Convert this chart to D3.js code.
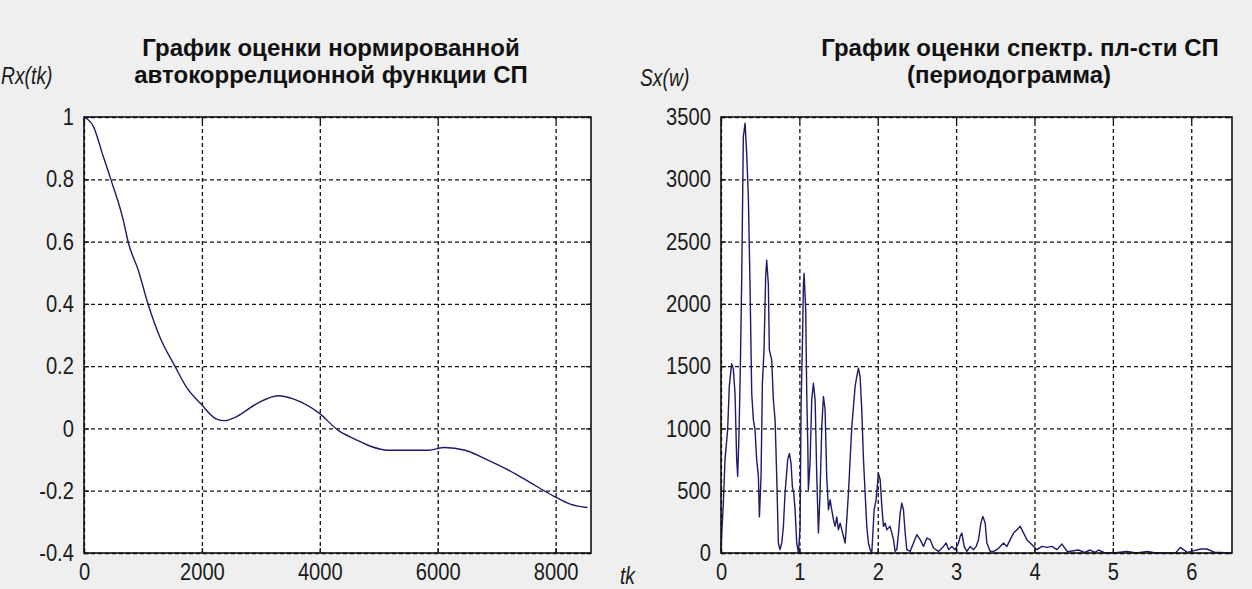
<!DOCTYPE html>
<html>
<head>
<meta charset="utf-8">
<script src="https://cdn.jsdelivr.net/npm/d3@7"></script>
<style>
  html, body { margin: 0; padding: 0; background: #efefef; }
  svg { display: block; }
  .tick-label { font-family: "Liberation Sans", Arial, sans-serif; font-size: 24px; fill: #1a1a1a; }
  .title { font-family: "Liberation Sans", Arial, sans-serif; font-weight: bold; font-size: 24px; fill: #111; }
  .axis-name { font-family: "Liberation Sans", Arial, sans-serif; font-style: italic; font-size: 23px; fill: #1a1a1a; }
</style>
</head>
<body>
<div id="chart"></div>
<script>
// Normalized autocorrelation estimate (left panel)
const acfLag = [0, 158, 327, 458, 666, 751, 921, 1090, 1288, 1542, 1740, 1983, 2249, 2390, 2588, 2927,
  3293, 3547, 3983, 4318, 4593, 4871, 5149, 5840, 6117, 6463, 6878, 7224, 7570, 7964, 8261, 8539];
const acfValue = [1, 0.97, 0.873, 0.798, 0.669, 0.597, 0.508, 0.397, 0.293, 0.2, 0.132, 0.079, 0.03, 0.025, 0.038, 0.079,
  0.105, 0.095, 0.05, -0.007, -0.034, -0.058, -0.07, -0.07, -0.061, -0.07, -0.104, -0.136, -0.174, -0.217, -0.244, -0.254];

// Periodogram estimate (right panel)
const psdFreq = [0, 0.01, 0.03, 0.051, 0.085, 0.106, 0.136, 0.157, 0.179, 0.2, 0.213, 0.23, 0.247, 0.264, 0.285, 0.307,
  0.328, 0.349, 0.37, 0.392, 0.413, 0.434, 0.455, 0.477, 0.49, 0.511, 0.528, 0.549, 0.57, 0.583, 0.604, 0.617,
  0.647, 0.668, 0.69, 0.711, 0.732, 0.753, 0.775, 0.796, 0.817, 0.851, 0.873, 0.894, 0.911, 0.928, 0.945, 0.966,
  0.988, 1.009, 1.022, 1.039, 1.052, 1.06, 1.081, 1.094, 1.107, 1.115, 1.136, 1.158, 1.179, 1.201, 1.222, 1.243,
  1.264, 1.286, 1.307, 1.328, 1.349, 1.371, 1.392, 1.413, 1.435, 1.456, 1.477, 1.498, 1.52, 1.541, 1.584, 1.605,
  1.626, 1.669, 1.711, 1.732, 1.754, 1.775, 1.796, 1.818, 1.839, 1.86, 1.881, 1.903, 1.924, 1.954, 1.979, 2.009,
  2.031, 2.052, 2.073, 2.095, 2.116, 2.137, 2.158, 2.18, 2.201, 2.222, 2.243, 2.265, 2.286, 2.307, 2.328, 2.35,
  2.371, 2.414, 2.456, 2.499, 2.541, 2.584, 2.626, 2.669, 2.711, 2.775, 2.839, 2.873, 2.903, 2.946, 2.988, 3.031,
  3.052, 3.073, 3.103, 3.137, 3.18, 3.222, 3.256, 3.286, 3.316, 3.341, 3.371, 3.392, 3.435, 3.478, 3.52, 3.563,
  3.605, 3.648, 3.69, 3.733, 3.776, 3.818, 3.861, 3.903, 3.946, 3.988, 4.031, 4.095, 4.16, 4.222, 4.286, 4.35,
  4.42, 4.56, 4.64, 4.71, 4.77, 4.82, 4.9, 5.0, 5.18, 5.3, 5.44, 5.55, 5.8, 5.86, 5.95, 6.0,
  6.12, 6.2, 6.3, 6.37, 6.5];
const psdValue = [0, 160, 400, 750, 990, 1340, 1520, 1480, 1280, 750, 615, 960, 1500, 2190, 3340, 3450,
  3200, 2860, 2160, 1280, 1070, 990, 750, 615, 290, 615, 1360, 1630, 2220, 2350, 2160, 1630,
  1550, 1230, 1070, 615, 80, 27, 80, 210, 480, 750, 800, 720, 530, 480, 350, 80,
  0, 210, 1200, 1680, 2160, 2245, 1950, 1280, 880, 507, 720, 1230, 1363, 1230, 615, 160,
  481, 1015, 1256, 1150, 615, 347, 428, 347, 267, 214, 290, 187, 240, 187, 80, 267,
  481, 1015, 1336, 1416, 1483, 1416, 1150, 748, 481, 214, 80, 27, 0, 347, 427, 641,
  588, 374, 214, 240, 187, 200, 214, 160, 107, 13, 27, 160, 320, 401, 347, 160,
  27, 13, 80, 147, 107, 53, 120, 107, 40, 13, 53, 80, 27, 53, 27, 80,
  134, 160, 53, 13, 53, 27, 53, 107, 240, 294, 240, 80, 13, 13, 27, 53,
  80, 53, 107, 160, 187, 214, 160, 107, 80, 53, 27, 53, 45, 53, 27, 72,
  10, 24, 5, 24, 5, 24, 0, 0, 13, 0, 13, 0, 0, 45, 5, 13,
  32, 32, 5, 5, 0];

// Tick values
const acfXTicks = [0, 2000, 4000, 6000, 8000];
const acfYTicks = [-0.4, -0.2, 0, 0.2, 0.4, 0.6, 0.8, 1];
const psdXTicks = [0, 1, 2, 3, 4, 5, 6];
const psdYTicks = [0, 500, 1000, 1500, 2000, 2500, 3000, 3500];

const width = 1252;
const height = 589;
const lineColor = "#1c1c6a";
const narrow = "scale(0.84,1)"; // squeeze glyphs to mimic the narrow bitmap font

const svg = d3.select("#chart").append("svg")
  .attr("width", width)
  .attr("height", height);

svg.append("rect").attr("width", width).attr("height", height).attr("fill", "#efefef");

function drawPanel(cfg) {
  const x = d3.scaleLinear().domain(cfg.xDomain).range([cfg.left, cfg.right]);
  const y = d3.scaleLinear().domain(cfg.yDomain).range([cfg.bottom, cfg.top]);
  const innerW = cfg.right - cfg.left;
  const innerH = cfg.bottom - cfg.top;

  const g = svg.append("g");

  g.append("rect")
    .attr("x", cfg.left).attr("y", cfg.top)
    .attr("width", innerW).attr("height", innerH)
    .attr("fill", "#fff");

  // dashed grid
  const gridX = g.append("g")
    .attr("transform", `translate(0,${cfg.bottom})`)
    .call(d3.axisBottom(x).tickValues(cfg.xTicks).tickSize(-innerH).tickFormat(""));
  const gridY = g.append("g")
    .attr("transform", `translate(${cfg.left},0)`)
    .call(d3.axisLeft(y).tickValues(cfg.yTicks).tickSize(-innerW).tickFormat(""));
  [gridX, gridY].forEach((a) => {
    a.select(".domain").remove();
    a.selectAll("line").attr("stroke", "#111").attr("stroke-width", 1.3).attr("stroke-dasharray", "4,3");
  });

  // small inner tick marks on all four sides
  const tickLen = 5;
  const ticks = [
    g.append("g").attr("transform", `translate(0,${cfg.bottom})`).call(d3.axisBottom(x).tickValues(cfg.xTicks).tickSize(-tickLen).tickFormat("")),
    g.append("g").attr("transform", `translate(0,${cfg.top})`).call(d3.axisTop(x).tickValues(cfg.xTicks).tickSize(-tickLen).tickFormat("")),
    g.append("g").attr("transform", `translate(${cfg.left},0)`).call(d3.axisLeft(y).tickValues(cfg.yTicks).tickSize(-tickLen).tickFormat("")),
    g.append("g").attr("transform", `translate(${cfg.right},0)`).call(d3.axisRight(y).tickValues(cfg.yTicks).tickSize(-tickLen).tickFormat(""))
  ];
  ticks.forEach((a) => {
    a.select(".domain").remove();
    a.selectAll("line").attr("stroke", "#111").attr("stroke-width", 1.3);
  });

  // data line
  const line = d3.line()
    .x((d) => x(d[0]))
    .y((d) => y(d[1]))
    .curve(cfg.curve);

  g.append("path")
    .datum(d3.zip(cfg.xs, cfg.ys))
    .attr("fill", "none")
    .attr("stroke", lineColor)
    .attr("stroke-width", 1.4)
    .attr("stroke-linejoin", "round")
    .attr("d", line);

  // frame
  g.append("rect")
    .attr("x", cfg.left).attr("y", cfg.top)
    .attr("width", innerW).attr("height", innerH)
    .attr("fill", "none")
    .attr("stroke", "#111")
    .attr("stroke-width", 1.6);

  // tick labels
  const xLab = g.append("g")
    .attr("transform", `translate(0,${cfg.bottom})`)
    .call(d3.axisBottom(x).tickValues(cfg.xTicks).tickSize(0).tickPadding(10).tickFormat(cfg.xFormat));
  const yLab = g.append("g")
    .attr("transform", `translate(${cfg.left},0)`)
    .call(d3.axisLeft(y).tickValues(cfg.yTicks).tickSize(0).tickPadding(12).tickFormat(cfg.yFormat));
  [xLab, yLab].forEach((a) => {
    a.select(".domain").remove();
    a.attr("font-family", null).attr("font-size", null);
    a.selectAll("text").attr("class", "tick-label").attr("transform", narrow);
  });

  // title lines
  cfg.title.forEach((t, i) => {
    g.append("text")
      .attr("class", "title")
      .attr("text-anchor", "middle")
      .attr("x", t.cx)
      .attr("y", 56 + i * 27)
      .text(t.text);
  });

  g.append("text")
    .attr("class", "axis-name")
    .attr("transform", `translate(${cfg.yName.x},${cfg.yName.y}) ${narrow}`)
    .text(cfg.yName.text);
}

drawPanel({
  left: 84, right: 591, top: 117, bottom: 553,
  xDomain: [0, 8600], yDomain: [-0.4, 1],
  xTicks: acfXTicks, yTicks: acfYTicks,
  xFormat: d3.format("d"), yFormat: (d) => String(+d.toFixed(1)),
  xs: acfLag, ys: acfValue,
  curve: d3.curveMonotoneX,
  title: [
    { text: "График оценки нормированной", cx: 331 },
    { text: "автокоррелционной функции СП", cx: 331 }
  ],
  yName: { text: "Rx(tk)", x: 1, y: 84 }
});

drawPanel({
  left: 721, right: 1232, top: 117, bottom: 553,
  xDomain: [0, 6.52], yDomain: [0, 3500],
  xTicks: psdXTicks, yTicks: psdYTicks,
  xFormat: d3.format("d"), yFormat: d3.format("d"),
  xs: psdFreq, ys: psdValue,
  curve: d3.curveLinear,
  title: [
    { text: "График оценки спектр. пл-сти СП", cx: 1020 },
    { text: "(периодограмма)", cx: 1009 }
  ],
  yName: { text: "Sx(w)", x: 640, y: 86 }
});

// x-axis name shared between the panels
svg.append("text")
  .attr("class", "axis-name")
  .attr("transform", `translate(620,584) ${narrow}`)
  .text("tk");
</script>
</body>
</html>
